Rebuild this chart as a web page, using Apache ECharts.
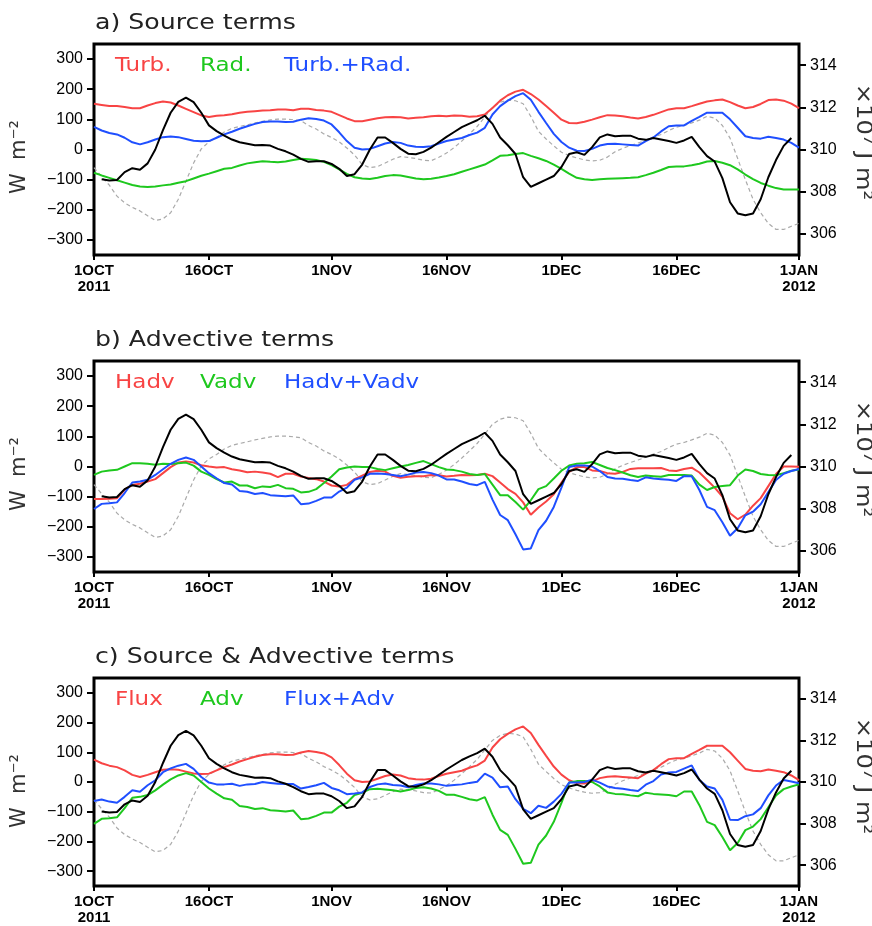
<!DOCTYPE html>
<html><head><meta charset="utf-8">
<script src="https://cdn.jsdelivr.net/npm/echarts@6/dist/echarts.min.js"></script>
<style>html,body{margin:0;padding:0;background:#fff}#c{width:872px;height:926px}</style>
</head><body><div id="c"></div>
<script>
// ---- axis ticks / labels ----
const xTickDays = [0, 15, 31, 46, 61, 76, 92];
const xTickLabels = ['1OCT\n2011', '16OCT', '1NOV', '16NOV', '1DEC', '16DEC', '1JAN\n2012'];
const leftTicks = [-300, -200, -100, 0, 100, 200, 300];
const rightTicks = [306, 308, 310, 312, 314];

// ---- daily series, 1 Oct 2011 (day 0) .. 1 Jan 2012 (day 92), W m-2 ----
const turb = [152,148,144,144,141,137,137,146,154,159,156,146,135,124,113,108,112,114,117,122,125,127,129,130,133,133,130,135,135,131,129,125,114,103,94,94,99,104,107,108,107,103,105,107,110,112,110,113,112,109,110,116,138,162,180,192,198,184,166,144,122,99,88,87,92,99,107,114,113,110,106,103,108,115,124,133,137,137,144,152,159,163,166,157,146,137,141,151,164,166,162,152,137];
const rad = [-77,-86,-94,-102,-110,-118,-123,-124,-123,-119,-116,-110,-105,-96,-87,-80,-72,-64,-61,-53,-46,-42,-39,-41,-42,-40,-35,-31,-32,-35,-41,-52,-66,-81,-92,-96,-98,-94,-88,-85,-86,-91,-96,-99,-97,-93,-88,-82,-74,-66,-58,-50,-36,-21,-19,-15,-12,-21,-29,-38,-50,-64,-80,-94,-99,-101,-99,-97,-96,-95,-94,-92,-85,-77,-68,-58,-56,-56,-52,-47,-40,-38,-44,-52,-66,-83,-98,-111,-120,-128,-133,-133,-133];
const turbRad = [75,63,55,50,39,24,17,24,33,41,43,41,35,29,27,28,39,50,59,69,77,85,91,93,93,91,92,99,104,101,96,83,57,28,6,0,2,11,20,25,22,13,9,8,11,20,28,33,38,48,56,72,116,144,162,177,187,165,125,88,52,25,6,-4,-5,2,13,18,19,17,15,13,28,40,60,77,80,80,95,108,122,122,122,100,72,44,38,36,42,38,33,22,6];
const hadv = [-108,-108,-107,-105,-77,-61,-57,-50,-42,-22,-2,13,17,13,4,0,-3,-2,-9,-13,-19,-17,-20,-24,-35,-24,-24,-33,-38,-42,-50,-63,-66,-61,-42,-30,-18,-14,-17,-31,-37,-34,-32,-32,-28,-29,-33,-31,-28,-29,-28,-24,-32,-53,-75,-91,-119,-160,-136,-116,-92,-53,-18,-2,-2,-13,-15,-22,-24,-18,-8,-6,-6,-6,-5,-13,-15,-8,-4,-20,-45,-70,-100,-155,-175,-160,-130,-105,-65,-25,0,0,-1];
const vadv = [-28,-17,-13,-11,0,11,11,9,6,9,8,11,13,3,-17,-28,-42,-53,-50,-63,-63,-72,-66,-68,-61,-72,-74,-86,-84,-75,-55,-33,-9,-3,0,-2,-2,-8,-12,-6,0,5,12,18,8,-2,-10,-12,-17,-25,-28,-25,-60,-95,-95,-118,-143,-112,-75,-65,-40,-14,3,9,11,15,5,-5,-12,-20,-29,-35,-30,-32,-34,-28,-28,-28,-30,-60,-78,-68,-65,-62,-30,-10,-15,-25,-28,-29,-22,-14,-10];
const hadvVadv = [-141,-124,-122,-119,-88,-53,-50,-44,-28,-9,9,22,30,22,0,-22,-39,-55,-60,-81,-84,-91,-88,-95,-97,-99,-96,-125,-123,-114,-103,-103,-83,-70,-44,-36,-24,-23,-25,-28,-32,-27,-20,-18,-22,-30,-43,-43,-50,-58,-62,-51,-110,-161,-178,-225,-275,-272,-211,-180,-134,-70,-2,3,3,0,-15,-35,-40,-41,-45,-48,-36,-40,-42,-44,-48,-32,-32,-78,-134,-145,-185,-230,-205,-162,-150,-125,-85,-45,-24,-15,-8];
const flux = turbRad;      // Flux = Turb.+Rad.
const adv = hadvVadv;      // Adv = Hadv+Vadv
const fluxAdv = [-64,-59,-66,-70,-50,-28,-33,-11,6,33,46,55,61,44,17,-2,-8,-8,-6,-13,-8,-7,0,-3,-6,-7,-7,-22,-17,-11,-3,-20,-28,-41,-39,-35,-17,-8,-5,-10,-12,-18,-10,-5,-5,-8,-13,-10,-8,-3,1,28,15,-18,-15,-58,-90,-105,-80,-87,-66,-40,-2,-2,0,8,-2,-15,-20,-23,-27,-30,-9,3,25,32,34,45,56,7,-15,-22,-60,-127,-128,-115,-109,-88,-45,-12,7,2,-4];
const tendency = [null,-99,-103,-101,-75,-62,-67,-46,0,64,122,158,172,157,122,80,61,46,33,24,19,14,15,13,2,-6,-17,-31,-41,-39,-39,-48,-64,-88,-82,-50,0,40,40,22,2,-14,-16,-8,6,24,42,58,74,86,97,112,85,40,14,-15,-92,-124,-112,-100,-88,-58,-15,-9,-18,8,40,50,44,46,46,36,32,38,33,28,22,30,42,8,-22,-40,-95,-175,-212,-218,-212,-165,-92,-35,12,38,null];
// heat content, x10^7 J m^2 (right axis)
const heatContent = [309.14,308.71,308.31,307.79,307.47,307.26,307.09,306.86,306.64,306.71,307.0,307.64,308.5,309.36,310.03,310.36,310.57,310.83,311.0,311.09,311.17,311.26,311.33,311.4,311.44,311.44,311.41,311.36,311.14,310.97,310.74,310.57,310.36,310.07,309.74,309.29,309.14,309.19,309.36,309.54,309.66,309.63,309.57,309.49,309.47,309.63,309.83,310.09,310.4,310.74,311.09,311.54,312.0,312.24,312.34,312.31,312.17,311.57,310.86,310.5,310.17,309.87,309.71,309.6,309.51,309.46,309.49,309.64,309.89,310.06,310.19,310.31,310.44,310.59,310.71,310.9,311.06,311.14,311.26,311.39,311.57,311.49,311.14,310.54,309.57,308.57,307.64,307.0,306.5,306.21,306.21,306.36,306.5];

const titles = ['a) Source terms', 'b) Advective terms', 'c) Source & Advective terms'];
const legendNames = [['Turb.', 'Rad.', 'Turb.+Rad.'], ['Hadv', 'Vadv', 'Hadv+Vadv'], ['Flux', 'Adv', 'Flux+Adv']];
const panelData = [[turb, rad, turbRad], [hadv, vadv, hadvVadv], [flux, adv, fluxAdv]];

// ---- styling / layout ----
const COLORS = ['#f84444', '#1ec81e', '#1f4fff'];
const GRID_LEFT = 94, GRID_W = 705;
const GRID_TOPS = [44, 361, 678];
const GRID_H = [211, 211, 210];
const TEXT_FONT = 'DejaVu Sans';
const pairs = arr => arr.map((v, i) => [i, v]);

const grids = [], xAxes = [], yAxes = [], series = [], graphics = [];
GRID_TOPS.forEach((top, p) => {
  grids.push({left: GRID_LEFT, top: top, width: GRID_W, height: GRID_H[p], show: true,
    borderColor: '#000', borderWidth: 3, backgroundColor: 'transparent', containLabel: false});
  xAxes.push({gridIndex: p, type: 'value', min: 0, max: 92, position: 'bottom',
    axisLine: {show: false, onZero: false}, splitLine: {show: false},
    axisTick: {show: true, customValues: xTickDays, length: 5, lineStyle: {color: '#000', width: 2}},
    axisLabel: {customValues: xTickDays, margin: 8, color: '#000', fontWeight: 'bold', fontSize: 15,
      fontFamily: '"Liberation Sans", Arial, sans-serif', lineHeight: 16,
      formatter: v => xTickLabels[xTickDays.indexOf(Math.round(v))] || ''}});
  yAxes.push({gridIndex: p, type: 'value', position: 'left', min: -350, max: 350,
    axisLine: {show: false, onZero: false}, splitLine: {show: false},
    axisTick: {show: true, customValues: leftTicks, length: 7, lineStyle: {color: '#000', width: 2}},
    axisLabel: {customValues: leftTicks, margin: 11, color: '#000', fontSize: 16, fontFamily: '"Liberation Sans", Arial, sans-serif',
      formatter: v => v < 0 ? '\u2212' + (-v) : String(v)}});
  yAxes.push({gridIndex: p, type: 'value', position: 'right', min: 305, max: 315,
    axisLine: {show: false, onZero: false}, splitLine: {show: false},
    axisTick: {show: true, customValues: rightTicks, length: 7, lineStyle: {color: '#000', width: 2}},
    axisLabel: {customValues: rightTicks, margin: 11, color: '#000', fontSize: 16, fontFamily: '"Liberation Sans", Arial, sans-serif'}});

  const yl = p * 2, yr = p * 2 + 1;
  series.push({type: 'line', name: 'heat content', xAxisIndex: p, yAxisIndex: yr, data: pairs(heatContent),
    showSymbol: false, lineStyle: {color: '#aaaaaa', width: 1.2, type: [4, 3]}, z: 2});
  panelData[p].forEach((arr, k) => {
    series.push({type: 'line', name: legendNames[p][k], xAxisIndex: p, yAxisIndex: yl, data: pairs(arr),
      showSymbol: false, lineStyle: {color: COLORS[k], width: 2}, z: 3 + k});
  });
  series.push({type: 'line', name: 'tendency', xAxisIndex: p, yAxisIndex: yl, data: pairs(tendency),
    showSymbol: false, connectNulls: false, lineStyle: {color: '#000', width: 2}, z: 7});

  // titles, legend words, axis units
  graphics.push({type: 'text', x: 95, y: top - 20, scaleX: 1.2,
    style: {text: titles[p], fill: '#222', fontSize: 21, fontFamily: TEXT_FONT, align: 'left', verticalAlign: 'middle'}});
  const legX = [115, 200, 284];
  legendNames[p].forEach((nm, k) => {
    graphics.push({type: 'text', x: legX[k], y: top + 22, scaleX: 1.15,
      style: {text: nm, fill: COLORS[k], fontSize: 20, fontFamily: TEXT_FONT, align: 'left', verticalAlign: 'middle'}});
  });
  graphics.push({type: 'text', x: 20, y: top + 113, rotation: Math.PI / 2,
    style: {text: 'W  m\u207B\u00B2', fill: '#333', fontSize: 21, fontFamily: TEXT_FONT, align: 'center', verticalAlign: 'middle'}});
  graphics.push({type: 'text', x: 862, y: top + 98, rotation: -Math.PI / 2, scaleX: 1.15,
    style: {text: '\u00D710\u2077 J m\u00B2', fill: '#333', fontSize: 21, fontFamily: TEXT_FONT, align: 'center', verticalAlign: 'middle'}});
});

const chart = echarts.init(document.getElementById('c'), null, {renderer: 'canvas'});
chart.setOption({
  animation: false,
  backgroundColor: '#fff',
  grid: grids, xAxis: xAxes, yAxis: yAxes, series: series, graphic: graphics
});
</script></body></html>
